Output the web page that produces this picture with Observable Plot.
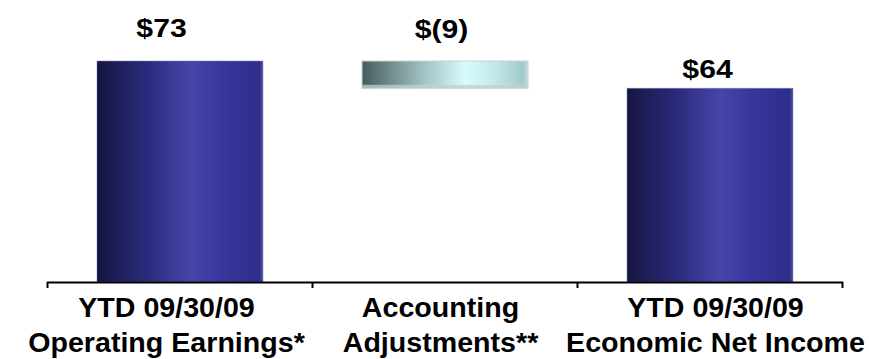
<!DOCTYPE html>
<html>
<head>
<meta charset="utf-8">
<script src="https://cdn.jsdelivr.net/npm/d3@7"></script>
<script src="https://cdn.jsdelivr.net/npm/@observablehq/plot@0.6"></script>
<style>
  html, body { margin: 0; padding: 0; background: #ffffff; }
  #chart { width: 869px; height: 359px; }
</style>
</head>
<body>
<div id="chart"></div>
<script>
// Earnings bridge: operating earnings, accounting adjustments, economic net income ($ millions)
const categories = [
  "YTD 09/30/09\nOperating Earnings*",
  "Accounting\nAdjustments**",
  "YTD 09/30/09\nEconomic Net Income"
];
const amounts = [73, -9, 64];
const kinds = ["total", "change", "total"];
const valueLabels = ["$73", "$(9)", "$64"];

// Waterfall rows: totals rise from zero, changes float from the running total
let running = 0;
const rows = categories.map((category, i) => {
  let y1, y2;
  if (kinds[i] === "total") {
    y1 = 0; y2 = amounts[i]; running = amounts[i];
  } else {
    y1 = running + amounts[i]; y2 = running; running += amounts[i];
  }
  return {category, kind: kinds[i], y1, y2, top: Math.max(y1, y2), label: valueLabels[i]};
});

const W = 869, H = 359;
const FONT = "'Liberation Sans', Arial, Helvetica, sans-serif";

// small per-column nudges for the text blocks
const valueNudge = [{dx: -19, dy: -25}, {dx: -4, dy: -24}, {dx: -3, dy: -11}];
const categoryNudge = [-14, -5, 5];

// gradient definitions used by the bars
const gradients = () => {
  const g = d3.create("svg:g");
  const defs = g.append("defs");
  const addH = (id, stops) => {
    const lg = defs.append("linearGradient").attr("id", id)
      .attr("x1", 0).attr("x2", 1).attr("y1", 0).attr("y2", 0);
    stops.forEach(([o, c]) => lg.append("stop").attr("offset", o).attr("stop-color", c));
  };
  addH("barBlue", [
    [0, "#141440"], [0.08, "#1c1c52"], [0.3, "#2a2a7c"],
    [0.56, "#4646aa"], [0.76, "#36369c"], [0.98, "#2e2e8a"], [1, "#55559f"]
  ]);
  addH("barTeal", [
    [0, "#475c5c"], [0.1, "#5f7878"], [0.36, "#9fbfc1"],
    [0.62, "#d8fbfc"], [0.8, "#c4e8ea"], [0.97, "#a0c8ca"], [1, "#c8dcdc"]
  ]);
  const v = defs.append("linearGradient").attr("id", "tealFoot")
    .attr("x1", 0).attr("x2", 0).attr("y1", 0).attr("y2", 1);
  [[0, "#ffffff", 0], [0.86, "#ffffff", 0], [0.88, "#c0d0d0", 0.75], [1, "#c0d0d0", 0.75]]
    .forEach(([o, c, a]) => v.append("stop").attr("offset", o).attr("stop-color", c).attr("stop-opacity", a));
  return g.node();
};

// tick marks on the baseline at the edges of each category cell
const cellTicks = (index, scales) => {
  const x = scales.x, y = scales.y;
  const step = x.step(), bw = x.bandwidth();
  const gap = (step - bw) / 2;
  const edges = categories.map((c) => x(c) - gap);
  edges.push(x(categories[categories.length - 1]) + bw + gap);
  const g = d3.create("svg:g");
  g.selectAll("line").data(edges).join("line")
    .attr("x1", (d) => d).attr("x2", (d) => d)
    .attr("y1", y(0)).attr("y2", y(0) + 6)
    .attr("stroke", "#000").attr("stroke-width", 2);
  return g.node();
};

const valueMarks = rows.map((r, i) => Plot.text([r], {
  x: "category", y: "top", text: "label",
  lineAnchor: "bottom", dx: valueNudge[i].dx, dy: valueNudge[i].dy,
  fontSize: 26, fontWeight: "bold", fill: "#000"
}));

const categoryMarks = rows.map((r, i) => Plot.text([r], {
  x: "category", text: "category",
  frameAnchor: "bottom", lineAnchor: "bottom", lineHeight: 35 / 27,
  dx: categoryNudge[i], dy: 69,
  fontSize: 27, fontWeight: "bold", fill: "#000"
}));

const chart = Plot.plot({
  width: W,
  height: H,
  marginTop: 61,
  marginBottom: 77,
  marginLeft: 47,
  marginRight: 26,
  style: {fontFamily: FONT, background: "#ffffff", color: "#000", overflow: "visible"},
  x: {domain: categories, paddingInner: 0.374, paddingOuter: 0.187, axis: null},
  y: {domain: [0, d3.max(rows, (d) => d.top)], axis: null},
  marks: [
    gradients,
    Plot.barY(rows, {
      filter: (d) => d.kind === "total",
      x: "category", y1: "y1", y2: "y2",
      fill: "url(#barBlue)", stroke: "#7a7ac0", strokeWidth: 0.8, strokeOpacity: 0.6
    }),
    Plot.barY(rows, {
      filter: (d) => d.kind === "change",
      x: "category", y1: "y1", y2: "y2",
      fill: "url(#barTeal)", stroke: "#c4d4d4", strokeWidth: 1
    }),
    Plot.barY(rows, {
      filter: (d) => d.kind === "change",
      x: "category", y1: "y1", y2: "y2",
      fill: "url(#tealFoot)"
    }),
    Plot.ruleY([0], {stroke: "#000", strokeWidth: 2}),
    cellTicks,
    ...valueMarks,
    ...categoryMarks
  ]
});

// widen the label glyphs horizontally around each text's own anchor
const widthFactor = (content) =>
  valueLabels.includes(content) ? 1.16 : 1.06;
d3.select(chart).selectAll("text").each(function () {
  const sx = widthFactor(this.textContent);
  const ax = +(this.getAttribute("x") || 0);
  const t = this.getAttribute("transform") || "";
  this.setAttribute("transform",
    `${t} translate(${ax},0) scale(${sx},1) translate(${-ax},0)`);
});

document.getElementById("chart").appendChild(chart);
</script>
</body>
</html>
